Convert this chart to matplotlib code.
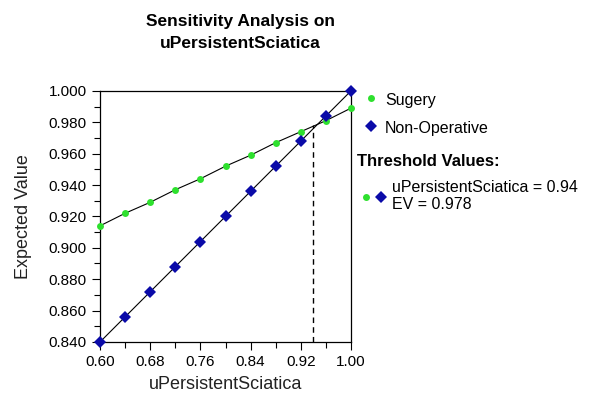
import matplotlib
matplotlib.use("Agg")
import matplotlib.pyplot as plt
from matplotlib.ticker import FixedLocator, MultipleLocator, FormatStrFormatter

plt.rcParams["font.family"] = ["Liberation Sans", "DejaVu Sans"]

# Данные
u_values = [0.60, 0.64, 0.68, 0.72, 0.76, 0.80, 0.84, 0.88, 0.92, 0.96, 1.00]
ev_surgery = [0.914, 0.922, 0.929, 0.937, 0.944, 0.952, 0.959, 0.967, 0.974, 0.981, 0.989]
ev_nonop = [0.840, 0.856, 0.872, 0.888, 0.904, 0.920, 0.936, 0.952, 0.968, 0.984, 1.000]
x_ticks = [0.60, 0.68, 0.76, 0.84, 0.92, 1.00]
threshold_u = 0.94
threshold_ev = 0.978

green = "#2ee02e"
blue = "#0a0aa8"

fig = plt.figure(figsize=(6.0, 4.13), dpi=100)
ax = fig.add_axes([0.1667, 0.172, 0.4183, 0.608])

# Линии и маркеры
ax.plot(u_values, ev_surgery, color="black", linewidth=0.8, zorder=2)
ax.plot(u_values, ev_nonop, color="black", linewidth=0.8, zorder=2)
ax.plot(u_values, ev_surgery, "o", color=green, markersize=5, markeredgewidth=0,
        zorder=3, clip_on=False)
ax.plot(u_values, ev_nonop, "D", color=blue, markersize=6.5, markeredgewidth=0,
        zorder=4, clip_on=False)

# Пороговое значение
ax.plot([threshold_u, threshold_u], [0.840, threshold_ev], color="black",
        linestyle=(0, (4, 3)), linewidth=1.0, zorder=1)

ax.set_xlim(0.60, 1.00)
ax.set_ylim(0.840, 1.000)
ax.xaxis.set_major_locator(FixedLocator(x_ticks))
ax.xaxis.set_minor_locator(MultipleLocator(0.04))
ax.yaxis.set_major_locator(MultipleLocator(0.02))
ax.yaxis.set_minor_locator(MultipleLocator(0.01))
ax.xaxis.set_major_formatter(FormatStrFormatter("%.2f"))
ax.yaxis.set_major_formatter(FormatStrFormatter("%.3f"))
ax.tick_params(which="major", direction="out", length=6, width=0.8, labelsize=11,
               colors="black")
ax.tick_params(which="minor", direction="out", length=4, width=0.8)
for s in ax.spines.values():
    s.set_linewidth(0.9)

ax.set_xlabel("uPersistentSciatica", fontsize=13, color="#222222", labelpad=5)
ax.set_ylabel("Expected Value", fontsize=13, color="#222222", labelpad=12)

fig.text(0.40, 0.965, "Sensitivity Analysis on\nuPersistentSciatica", ha="center",
         va="top", fontsize=12.5, fontweight="bold", linespacing=1.55)

# Легенда справа
fig.lines.append(plt.Line2D([371 / 600], [1 - 98 / 413], marker="o", color=green,
                            markersize=5, markeredgewidth=0, transform=fig.transFigure))
fig.text(385 / 600, 1 - 101 / 413, "Sugery", fontsize=11.5, va="center")
fig.lines.append(plt.Line2D([371 / 600], [1 - 126 / 413], marker="D", color=blue,
                            markersize=6.5, markeredgewidth=0, transform=fig.transFigure))
fig.text(385 / 600, 1 - 128 / 413, "Non-Operative", fontsize=11.5, va="center")
fig.text(357 / 600, 1 - 161 / 413, "Threshold Values:", fontsize=12,
         fontweight="bold", va="center")
fig.lines.append(plt.Line2D([366 / 600], [1 - 197 / 413], marker="o", color=green,
                            markersize=5, markeredgewidth=0, transform=fig.transFigure))
fig.lines.append(plt.Line2D([381 / 600], [1 - 197 / 413], marker="D", color=blue,
                            markersize=6.5, markeredgewidth=0, transform=fig.transFigure))
fig.text(392 / 600, 1 - 180 / 413,
         "uPersistentSciatica = %.2f\nEV = %.3f" % (threshold_u, threshold_ev),
         fontsize=11.5, va="top", linespacing=1.2)

fig.savefig("out.png", dpi=100)
